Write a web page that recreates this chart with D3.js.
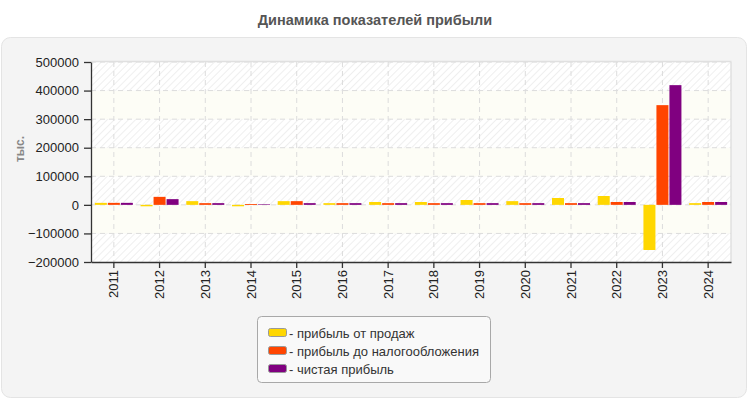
<!DOCTYPE html>
<html><head><meta charset="utf-8">
<script src="https://cdn.jsdelivr.net/npm/d3@7"></script>
<style>
html,body{margin:0;padding:0;background:#fff;}
svg{display:block;font-family:"Liberation Sans",Arial,sans-serif;}
</style></head>
<body>
<svg id="chart" width="750" height="400"></svg>
<script>
const categories = ["2011","2012","2013","2014","2015","2016","2017","2018","2019","2020","2021","2022","2023","2024"];
const salesProfit = [7000,-5000,13000,-5000,13000,6000,10000,10000,17000,13000,24000,31000,-158000,6000];
const preTaxProfit = [7000,28000,6000,3000,13000,6000,6000,6000,6000,6000,6000,10000,349000,10000];
const netProfit = [7000,20000,6000,2000,6000,6000,6000,6000,6000,6000,6000,10000,419000,10000];
const seriesNames = ["- прибыль от продаж","- прибыль до налогообложения","- чистая прибыль"];
const seriesColors = ["#ffd700","#ff4500","#800080"];
const yTicks = [-200000,-100000,0,100000,200000,300000,400000,500000];
const chartTitle = "Динамика показателей прибыли";
const yTitle = "тыс.";

(function(){
const series = [salesProfit, preTaxProfit, netProfit];
const svg = d3.select("#chart");

const defs = svg.append("defs");
const pat = defs.append("pattern").attr("id","hatch").attr("patternUnits","userSpaceOnUse")
  .attr("width",5).attr("height",5).attr("patternTransform","rotate(45)");
pat.append("rect").attr("width",5).attr("height",5).attr("fill","#ffffff");
pat.append("line").attr("x1",0).attr("y1",0).attr("x2",0).attr("y2",5)
  .attr("stroke","#efefef").attr("stroke-width",2);

svg.append("text").attr("x",375).attr("y",25).attr("text-anchor","middle")
  .attr("font-size",14.5).attr("font-weight","bold").attr("fill","#555").text(chartTitle);

svg.append("rect").attr("x",1.5).attr("y",37.5).attr("width",745).attr("height",360)
  .attr("rx",9).attr("fill","#f4f4f4").attr("stroke","#e4e4e4");

const pL = 91, pR = 731, pT = 62, pB = 262;
const y = d3.scaleLinear().domain([-200000,500000]).range([pB,pT]);
const x = d3.scaleBand().domain(categories).range([pL,pR]);

const g = svg.append("g");
for (let i = 0; i < yTicks.length - 1; i++) {
  const lo = yTicks[i], hi = yTicks[i+1];
  g.append("rect").attr("x",pL).attr("width",pR-pL)
    .attr("y",y(hi)).attr("height",y(lo)-y(hi))
    .attr("fill", i % 2 === 0 ? "url(#hatch)" : "#fdfdf6");
}
g.selectAll(".hg").data(yTicks.slice(1)).enter().append("line")
  .attr("x1",pL).attr("x2",pR).attr("y1",d=>y(d)).attr("y2",d=>y(d))
  .attr("stroke","#dcdcdc").attr("stroke-dasharray","5,4");
g.selectAll(".vg").data(categories).enter().append("line")
  .attr("x1",d=>x(d)+x.bandwidth()/2).attr("x2",d=>x(d)+x.bandwidth()/2)
  .attr("y1",pT).attr("y2",pB)
  .attr("stroke","#dcdcdc").attr("stroke-dasharray","5,4");
g.append("line").attr("x1",pL).attr("x2",pR+0.5).attr("y1",pT-0.5).attr("y2",pT-0.5).attr("stroke","#e0e0e0").attr("stroke-width",1.5);
g.append("line").attr("x1",pR).attr("x2",pR).attr("y1",pT).attr("y2",pB).attr("stroke","#e0e0e0").attr("stroke-width",1.5);

const barW = 12, gap = 1;
series.forEach((vals, si) => {
  g.selectAll(".b"+si).data(vals).enter().append("rect")
    .attr("x",(d,i)=>x(categories[i]) + x.bandwidth()/2 - 19 + si*(barW+gap))
    .attr("width",barW)
    .attr("y",d=>Math.min(y(d),y(0)))
    .attr("height",d=>Math.abs(y(d)-y(0)))
    .attr("fill",seriesColors[si]);
});

const yAxis = d3.axisLeft(y).tickValues(yTicks).tickSize(7).tickSizeOuter(0).tickFormat(d3.format("d"));
const ya = svg.append("g").attr("transform",`translate(${pL},0)`).call(yAxis);
ya.attr("font-family",null).attr("font-size",null);
ya.selectAll("text").attr("font-size",13).attr("fill","#222").attr("dx",-2);
ya.selectAll("line,path").attr("stroke","#333").attr("stroke-width",1.3);

const xAxis = d3.axisBottom(x).tickSize(6).tickSizeOuter(0);
const xa = svg.append("g").attr("transform",`translate(0,${pB})`).call(xAxis);
xa.attr("font-family",null).attr("font-size",null);
xa.selectAll("text").attr("font-size",13).attr("fill","#222")
  .attr("transform","rotate(-90)").attr("text-anchor","end").attr("x",-8).attr("y",0).attr("dy","0.35em");
xa.selectAll("line,path").attr("stroke","#333").attr("stroke-width",1.3);

svg.append("text").attr("transform","translate(20,149) rotate(-90)").attr("text-anchor","middle")
  .attr("dy","0.35em").attr("font-size",12).attr("font-weight","bold").attr("fill","#888").text(yTitle);

const lg = svg.append("g");
lg.append("rect").attr("x",257.5).attr("y",316.5).attr("width",233).attr("height",66).attr("rx",4)
  .attr("fill","#f9f9f9").attr("stroke","#a8a8a8");
seriesNames.forEach((n,i)=>{
  const yy = 333 + i*18;
  lg.append("rect").attr("x",268.5).attr("y",yy-4.5).attr("width",18).attr("height",8).attr("rx",2)
    .attr("fill",seriesColors[i]).attr("stroke","#999");
  lg.append("text").attr("x",289).attr("y",yy).attr("dy","0.35em").attr("font-size",13).attr("fill","#333").text(n);
});
})();
</script>
</body></html>
